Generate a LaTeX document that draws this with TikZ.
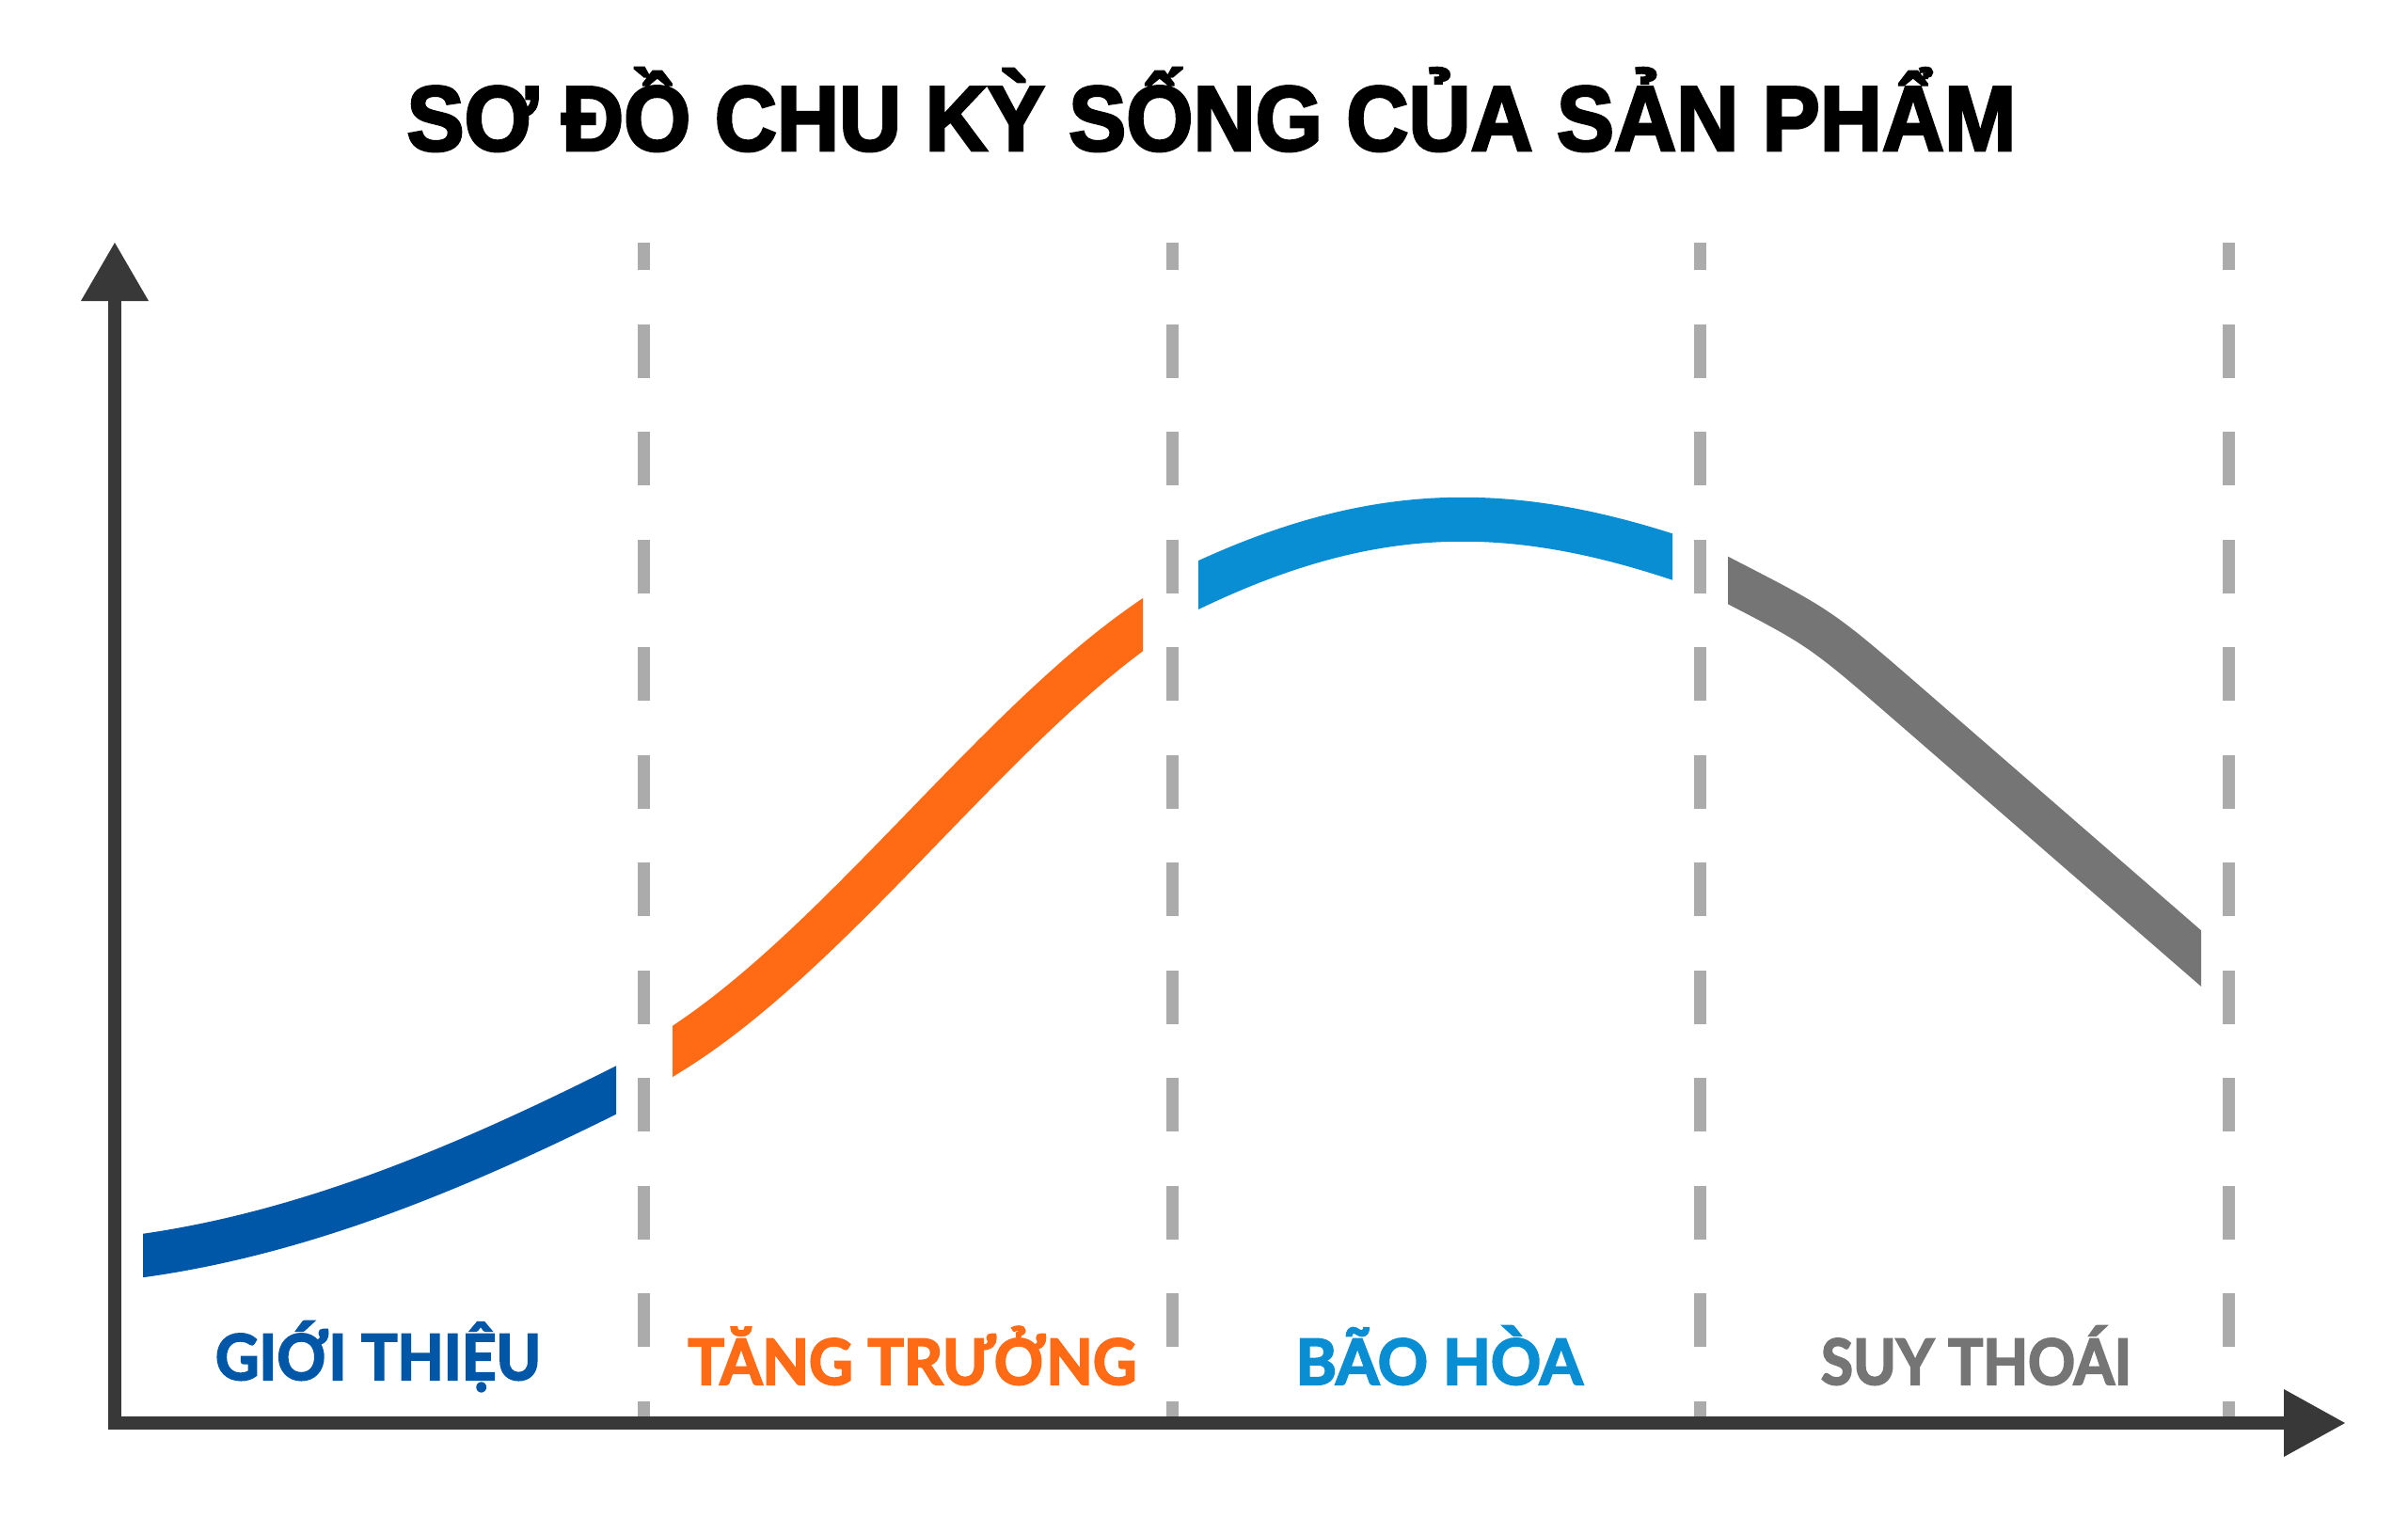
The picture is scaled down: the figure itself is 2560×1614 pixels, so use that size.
\documentclass[tikz,border=0pt]{standalone}
\usepackage{fontspec}
\usepackage{graphicx}
\usetikzlibrary{calc}
\setmainfont{Lato}
\newfontfamily\titlefont{Liberation Sans}[BoldFeatures={FakeBold=3}]
\newfontfamily\labelfont{Lato}[BoldFeatures={FakeBold=3}]
\definecolor{cIntro}{HTML}{0057A8}
\definecolor{cGrowth}{HTML}{FF6B15}
\definecolor{cMature}{HTML}{0A8ED3}
\definecolor{cDecline}{HTML}{757575}
\definecolor{cAxis}{HTML}{383838}
\definecolor{cDash}{HTML}{ABABAB}
\newcommand\fitw[2]{\resizebox{#1}{\height}{#2}}
\begin{document}
\begin{tikzpicture}[x=1pt,y=-1pt,
  axisline/.style={draw=cAxis,line width=14pt,line join=miter},
  arrowtip/.style={fill=cAxis},
  sepline/.style={draw=cDash,line width=13pt,dash pattern=on 57pt off 57.5pt,dash phase=28pt},
  curve/.style={line width=46pt,line join=round},
  phase/.style={anchor=base,inner sep=0pt,font=\labelfont\bfseries\fontsize{67}{70}\selectfont},
]
\fill[white] (0,0) rectangle (2560,1614);
\useasboundingbox (0,0) rectangle (2560,1614);

% title
\node[anchor=base,inner sep=0pt,font=\titlefont\bfseries\fontsize{98}{110}\selectfont] (title) at (1288,160)
  {\fitw{1711pt}{SƠ ĐỒ CHU KỲ SỐNG CỦA SẢN PHẨM}};

% dashed separators
\foreach \x/\n in {684/s1,1246/s2,1807/s3,2369/s4}{
  \coordinate (\n top) at (\x,258);
  \coordinate (\n bot) at (\x,1513);
  \draw[sepline] (\n top) -- (\n bot);
}

% curves
\coordinate (b0) at (152,1335); \coordinate (b1) at (322,1311);
\coordinate (b2) at (485,1244); \coordinate (b3) at (655,1159);
\begin{scope}
  \clip (152,0) rectangle (655,1614);
  \draw[curve,cIntro] ($(b0)!-40pt!(b1)$) -- (b0) .. controls (b1) and (b2) .. (b3) -- ($(b3)!-40pt!(b2)$);
\end{scope}

\coordinate (o0) at (715,1118); \coordinate (o1) at (885,1012);
\coordinate (o2) at (1051,779); \coordinate (o3) at (1215,664);
\begin{scope}
  \clip (715,0) rectangle (1215,1614);
  \draw[curve,cGrowth] ($(o0)!-40pt!(o1)$) -- (o0) .. controls (o1) and (o2) .. (o3) -- ($(o3)!-40pt!(o2)$);
\end{scope}

\coordinate (m0) at (1274,622); \coordinate (m1) at (1455,537);
\coordinate (m2) at (1597,533); \coordinate (m3) at (1778,592);
\begin{scope}
  \clip (1274,0) rectangle (1778,1614);
  \draw[curve,cMature,line width=47pt] ($(m0)!-40pt!(m1)$) -- (m0) .. controls (m1) and (m2) .. (m3) -- ($(m3)!-40pt!(m2)$);
\end{scope}

\coordinate (d0) at (1837,617); \coordinate (d1) at (1936,668);
\coordinate (d2) at (2035,754); \coordinate (d3) at (2340,1019);
\begin{scope}
  \clip (1837,0) rectangle (2340,1614);
  \draw[curve,cDecline,line width=45pt] ($(d0)!-40pt!(d1)$) -- (d0) .. controls (d1) .. (d2) -- (d3) -- ($(d3)!-40pt!(d2)$);
\end{scope}

% axes
\coordinate (origin) at (122,1513);
\coordinate (ytip) at (122,258);
\coordinate (ybase) at (122,320);
\coordinate (xtip) at (2493,1513);
\coordinate (xbase) at (2428,1513);
\draw[axisline] (ybase) -- (origin) -- (xbase);
\fill[arrowtip] (ytip) -- ($(ybase)+(-36,0)$) -- ($(ybase)+(36,0)$) -- cycle;
\fill[arrowtip] (xtip) -- ($(xbase)+(0,-36)$) -- ($(xbase)+(0,36)$) -- cycle;

% phase labels
\node[phase,text=cIntro] (lIntro) at (402,1467) {\fitw{346pt}{GIỚI THIỆU}};
\node[phase,text=cGrowth] (lGrowth) at (970,1472) {\fitw{477pt}{TĂNG TRƯỞNG}};
\node[phase,text=cMature] (lMature) at (1530,1472) {\fitw{305pt}{BÃO HÒA}};
\node[phase,text=cDecline] (lDecline) at (2101,1472) {\fitw{330pt}{SUY THOÁI}};
\end{tikzpicture}
\end{document}
